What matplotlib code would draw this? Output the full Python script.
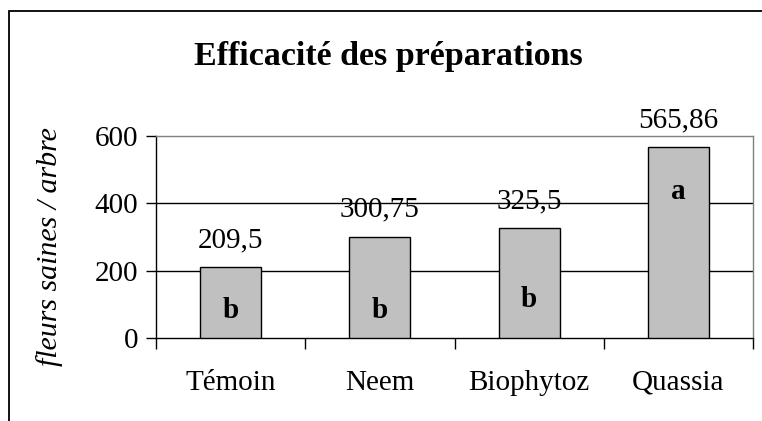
import matplotlib
matplotlib.use("Agg")
import matplotlib.pyplot as plt
from matplotlib.patches import Rectangle

# Données
categories = ["Témoin", "Neem", "Biophytoz", "Quassia"]
valeurs = [209.5, 300.75, 325.5, 565.86]
etiquettes = ["209,5", "300,75", "325,5", "565,86"]
lettres = ["b", "b", "b", "a"]
lettres_y = [83, 83, 113, 434]
y_ticks = [0, 200, 400, 600]

plt.rcParams['font.family'] = ['Liberation Serif', 'DejaVu Serif']

fig = plt.figure(figsize=(7.62, 4.21), dpi=100)
ax = fig.add_axes([156 / 762, 1 - 338 / 421, 597 / 762, 202 / 421])

x = list(range(len(categories)))
ax.bar(x, valeurs, width=0.41, color="#C0C0C0", edgecolor="black", linewidth=1, zorder=3)

# Lignes de grille
for v in y_ticks[1:-1]:
    ax.axhline(v, color="black", linewidth=1, zorder=1)

ax.set_xlim(-0.5, 3.5)
ax.set_ylim(0, 600)
ax.set_yticks(y_ticks)
ax.set_yticklabels([str(v) for v in y_ticks], fontsize=21)
ax.set_xticks(x)
ax.set_xticklabels(categories, fontsize=21)
ax.set_xticks([-0.5, 0.5, 1.5, 2.5, 3.5], minor=True)
ax.tick_params(axis='x', which='major', length=0, pad=23)
ax.tick_params(axis='x', which='minor', length=8, width=1, direction='out')
ax.tick_params(axis='y', length=7, width=1, direction='out', pad=6)

for side in ["left", "bottom"]:
    ax.spines[side].set_color("black")
    ax.spines[side].set_linewidth(1)
for side in ["top", "right"]:
    ax.spines[side].set_color("#808080")
    ax.spines[side].set_linewidth(1)

# Étiquettes de valeurs
for xi, v, t in zip(x, valeurs, etiquettes):
    ax.annotate(t, (xi, v), xytext=(0, 19.5), textcoords="offset points",
                ha="center", va="center", fontsize=21, zorder=4)

# Lettres de significativité
for xi, ly, l in zip(x, lettres_y, lettres):
    ax.text(xi, ly, l, ha="center", va="center", fontsize=21, fontweight="bold", zorder=4)

ax.set_ylabel("fleurs saines / arbre", fontsize=21.5, style="italic")
ax.yaxis.set_label_coords(-0.156, 0.455)

fig.text(388 / 762, 1 - 56 / 421, "Efficacité des préparations",
         ha="center", va="center", fontsize=24.5, fontweight="bold")

# Cadre du graphique
fig.patches.append(Rectangle((9 / 762, -0.1), 1.2, 1 - 11 / 421 + 0.1,
                             transform=fig.transFigure, fill=False,
                             edgecolor="black", linewidth=1.3, clip_on=False))

fig.savefig("out.png", dpi=100)
